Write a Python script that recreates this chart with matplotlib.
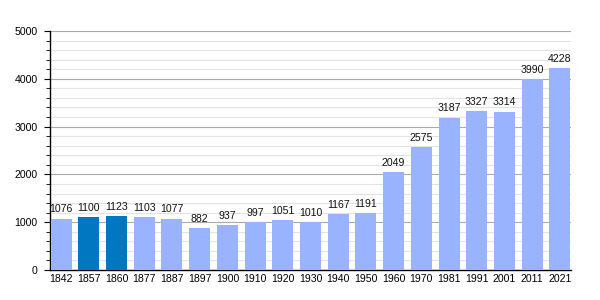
import matplotlib
matplotlib.use("Agg")
import matplotlib.pyplot as plt
from matplotlib.ticker import MultipleLocator

years = ["1842", "1857", "1860", "1877", "1887", "1897", "1900", "1910", "1920", "1930",
         "1940", "1950", "1960", "1970", "1981", "1991", "2001", "2011", "2021"]
population = [1076, 1100, 1123, 1103, 1077, 882, 937, 997, 1051, 1010,
              1167, 1191, 2049, 2575, 3187, 3327, 3314, 3990, 4228]
highlighted = ["1857", "1860"]

plt.rcParams['font.family'] = ['Liberation Sans', 'DejaVu Sans']

fig = plt.figure(figsize=(6, 3), dpi=100)
ax = fig.add_axes([50/600, 1-270/300, (571-50)/600, (270-31)/300])

x = list(range(len(years)))
colors = ["#0077c0" if y in highlighted else "#99b3ff" for y in years]
ax.bar(x, population, width=0.76, color=colors, zorder=3)

for xi, v in zip(x, population):
    ax.annotate(str(v), (xi, v), xytext=(0, 3), textcoords="offset points",
                ha="center", va="bottom", fontsize=7.6, color="#111111", zorder=4)

ax.set_xlim(-0.4, len(years) - 0.6)
ax.set_ylim(0, 5000)
ax.set_xticks(x)
ax.set_xticklabels(years)
ax.yaxis.set_major_locator(MultipleLocator(1000))
ax.yaxis.set_minor_locator(MultipleLocator(200))
ax.grid(axis="y", which="major", color="#aaaaaa", linewidth=0.8, zorder=0)
ax.grid(axis="y", which="minor", color="#e3e3e3", linewidth=0.8, zorder=0)
ax.tick_params(axis="x", length=0, labelsize=7.6, pad=3)
ax.tick_params(axis="y", which="major", length=4, labelsize=7.6, pad=5)
ax.tick_params(axis="y", which="minor", length=3)
for s in ["top", "right"]:
    ax.spines[s].set_visible(False)
ax.spines["left"].set_linewidth(1)
ax.spines["bottom"].set_linewidth(1)

fig.savefig("out.png", dpi=100)
